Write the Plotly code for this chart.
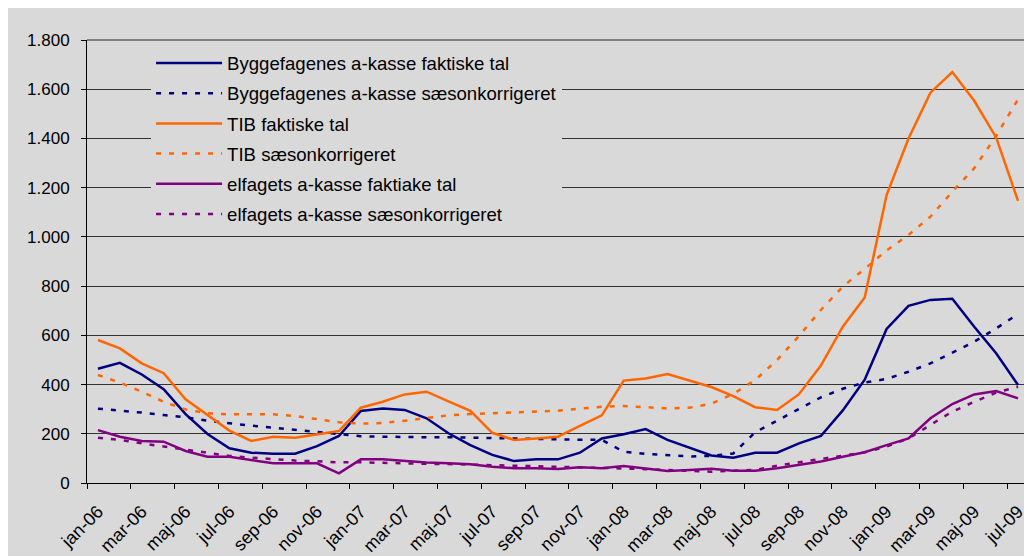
import plotly.graph_objects as go

# ── Data ──────────────────────────────────────────────────────────────────────
MONTHS = ["jan", "feb", "mar", "apr", "maj", "jun", "jul", "aug", "sep", "okt", "nov", "dec"]
CATEGORIES = [f"{m}-{y:02d}" for y in (6, 7, 8, 9) for m in MONTHS][:43]

BYG_FAKTISK = [464, 488, 441, 381, 280, 199, 141, 123, 119, 119, 150, 191,
               293, 303, 297, 263, 202, 154, 114, 89, 96, 96, 123, 181,
               198, 219, 175, 145, 112, 103, 123, 123, 161, 191, 295, 420,
               626, 720, 744, 749, 635, 527, 398]
BYG_SAESON = [302, 295, 286, 276, 267, 253, 242, 233, 225, 215, 207, 199,
              190, 188, 186, 186, 186, 184, 183, 180, 179, 178, 176, 175,
              127, 118, 113, 108, 110, 120, 206, 253, 300, 348, 383, 408,
              423, 452, 486, 529, 574, 628, 687]
TIB_FAKTISK = [581, 547, 486, 446, 340, 276, 213, 171, 188, 184, 198, 211,
               306, 330, 360, 371, 332, 293, 204, 175, 181, 188, 232, 275,
               416, 425, 443, 418, 390, 353, 308, 297, 361, 477, 635, 754,
               1170, 1400, 1586, 1670, 1553, 1404, 1146]
TIB_SAESON = [439, 408, 371, 330, 299, 283, 279, 279, 279, 272, 259, 247,
              241, 244, 253, 264, 275, 280, 283, 286, 288, 294, 302, 310,
              313, 309, 303, 306, 322, 362, 418, 500, 597, 703, 798, 870,
              945, 1008, 1082, 1184, 1279, 1410, 1559]
ELF_FAKTISK = [215, 188, 171, 168, 130, 107, 107, 93, 80, 80, 80, 39,
               96, 96, 88, 83, 80, 76, 66, 60, 60, 57, 64, 60,
               69, 60, 49, 53, 58, 50, 50, 60, 72, 87, 107, 125,
               154, 181, 263, 321, 360, 374, 344]
ELF_SAESON = [184, 175, 161, 148, 134, 121, 110, 103, 96, 91, 88, 84,
              84, 83, 80, 78, 77, 75, 71, 70, 67, 66, 66, 62,
              59, 56, 52, 47, 46, 50, 53, 70, 83, 96, 110, 125,
              148, 181, 236, 290, 330, 367, 391]

# ── Styling ───────────────────────────────────────────────────────────────────
NAVY = "#000080"
ORANGE = "#FF6600"
PURPLE = "#800080"
BG = "#D9D9D9"
FONT = "Arial, 'Liberation Sans', sans-serif"
DASH = "5px,8px"

SERIES = [
    ("Byggefagenes a-kasse faktiske tal", BYG_FAKTISK, NAVY, "solid"),
    ("Byggefagenes a-kasse sæsonkorrigeret", BYG_SAESON, NAVY, DASH),
    ("TIB faktiske tal", TIB_FAKTISK, ORANGE, "solid"),
    ("TIB sæsonkorrigeret", TIB_SAESON, ORANGE, DASH),
    ("elfagets a-kasse faktiake tal", ELF_FAKTISK, PURPLE, "solid"),
    ("elfagets a-kasse sæsonkorrigeret", ELF_SAESON, PURPLE, DASH),
]

x = list(range(len(CATEGORIES)))

fig = go.Figure()
for name, vals, color, dash in SERIES:
    fig.add_trace(go.Scatter(
        x=x, y=vals, mode="lines", name=name, legendgroup=name,
        line=dict(color=color, width=2.5, dash=dash),
    ))

fig.update_layout(
    width=1024, height=548,
    margin=dict(l=79, r=3, t=32, b=73),
    paper_bgcolor=BG, plot_bgcolor=BG,
    font=dict(family=FONT, size=17, color="black"),
    separators=",.",
    showlegend=True,
    legend=dict(
        x=0.068, y=0.99, xanchor="left", yanchor="top",
        bgcolor=BG, borderwidth=0,
        font=dict(size=18.6), itemwidth=66, tracegroupgap=3,
    ),
    shapes=[
        dict(type="line", xref="paper", yref="paper", x0=0, x1=1, y0=1, y1=1,
             line=dict(color="#808080", width=2), layer="below"),
        dict(type="line", xref="paper", yref="paper", x0=1, x1=1, y0=0, y1=1,
             line=dict(color="#808080", width=2), layer="below"),
    ],
)

fig.update_xaxes(
    range=[-0.5, len(CATEGORIES) - 0.5], automargin=False,
    tickvals=x[::2], ticktext=CATEGORIES[::2], tickangle=-45,
    ticks="", showgrid=False, zeroline=False,
    showline=True, linecolor="black", linewidth=1,
    minor=dict(tick0=-0.5, dtick=2, ticks="outside", ticklen=5, tickcolor="black", showgrid=False),
    tickfont=dict(size=18), ticklabelstandoff=10,
)
fig.update_yaxes(
    range=[0, 1800], dtick=200, tickformat=",d", automargin=False,
    ticks="outside", ticklen=5, tickcolor="black",
    showline=True, linecolor="black", linewidth=1,
    gridcolor="#333333", gridwidth=1, zeroline=False,
    ticklabelstandoff=8, tickfont=dict(size=17),
)

fig.write_html("out.html")
